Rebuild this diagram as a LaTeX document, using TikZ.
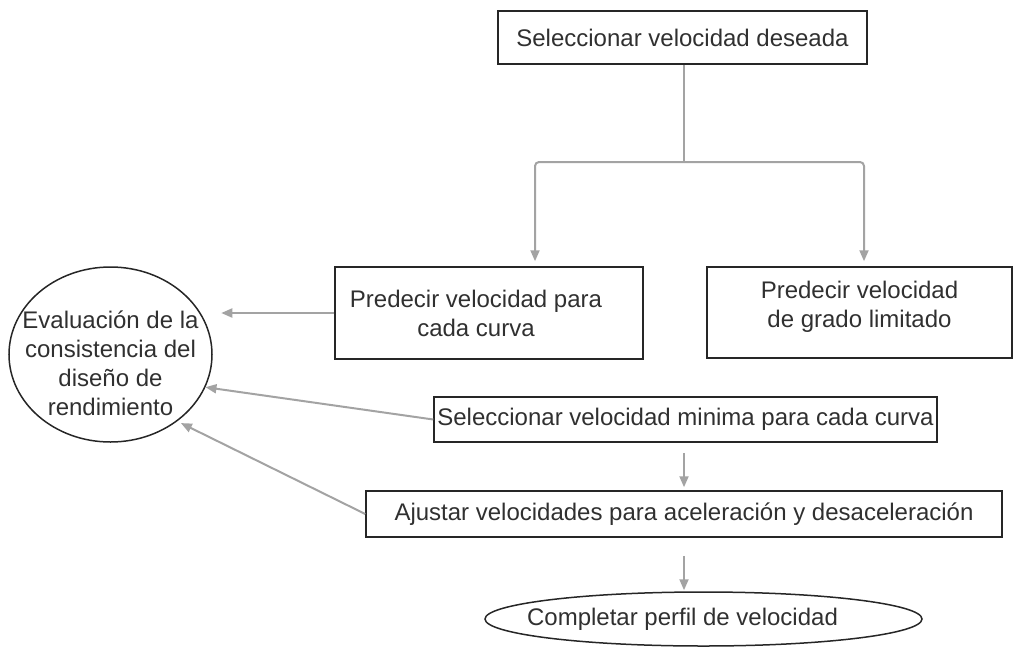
\documentclass[tikz,border=0pt]{standalone}
\usepackage{fontspec}
\setmainfont{Liberation Sans}
\usetikzlibrary{arrows.meta,shapes.geometric}

\definecolor{linegray}{HTML}{A3A3A3}
\definecolor{textgray}{HTML}{303030}

\tikzset{
  box/.style={draw=black!85, line width=1.5pt, rectangle, inner sep=0pt, align=center},
  oval/.style={draw=black!85, line width=1.5pt, ellipse, inner sep=0pt},
  trunk/.style={draw=linegray, line width=2pt},
  link/.style={trunk, -{Triangle[length=11pt,width=9pt]}},
  every label/.style={align=center, text=textgray}
}

\begin{document}
\begin{tikzpicture}[x=1pt,y=-1pt,font=\fontsize{24}{29}\selectfont,text=textgray]
  \useasboundingbox (0,0) rectangle (1014,648);
  % boxes
  \node[box, minimum width=369pt, minimum height=53pt] (desired) at (682.5,37.5) {Seleccionar velocidad deseada};
  \node[box, minimum width=308pt, minimum height=92pt,
    label={[xshift=-13pt]center:Predecir velocidad para\\cada curva}] (curves) at (489,313) {};
  \node[box, minimum width=305pt, minimum height=91pt,
    label={[yshift=6pt]center:Predecir velocidad\\de grado limitado}] (grade) at (859.5,312.5) {};
  \node[box, minimum width=503pt, minimum height=45pt] (minimum) at (685.5,419.5) {Seleccionar velocidad minima para cada curva};
  \node[box, minimum width=636pt, minimum height=46pt] (adjust) at (684,514) {Ajustar velocidades para aceleración y desaceleración};
  \node[oval, minimum width=203pt, minimum height=175pt,
    label={[yshift=-9pt]center:Evaluación de la\\consistencia del\\diseño de\\rendimiento}] (eval) at (110.5,354.5) {};
  \node[oval, minimum width=437pt, minimum height=54pt,
    label={[xshift=-21pt]center:Completar perfil de velocidad}] (done) at (703.5,619) {};
  % connectors
  \coordinate (split) at (684,162);
  \draw[trunk] (desired.south -| split) -- (split);
  \draw[link, rounded corners=4pt] (split) -| ([shift={(46,-5)}]curves.north);
  \draw[link, rounded corners=4pt] (split) -| ([shift={(4.5,-5)}]grade.north);
  \draw[link] (curves.west) -- ++(-113,0);
  \draw[link] (minimum.west) -- (eval.-19.5);
  \draw[link, shorten >=4pt] (adjust.west) -- (eval.-45);
  \draw[link, shorten <=10pt, shorten >=3pt] (adjust.north |- minimum.south) -- (adjust.north);
  \draw[link, shorten <=18pt, shorten >=1pt] (adjust.south) -- (adjust.south |- done.north);
\end{tikzpicture}
\end{document}
